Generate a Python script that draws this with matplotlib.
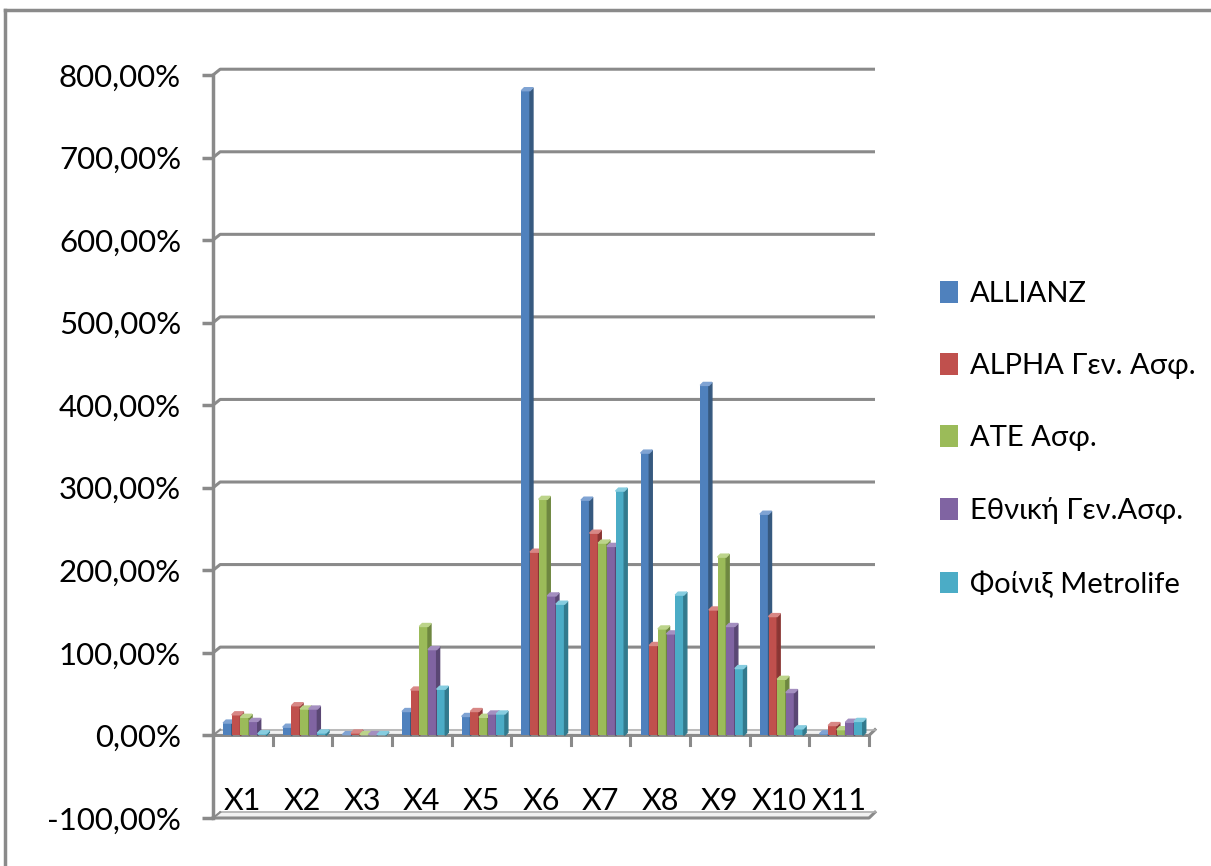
import numpy as np
import matplotlib
matplotlib.use("Agg")
import matplotlib.pyplot as plt
from matplotlib.lines import Line2D
from matplotlib.patches import Patch

plt.rcParams['font.family'] = ['Lato', 'DejaVu Sans']

categories = ["X1", "X2", "X3", "X4", "X5", "X6", "X7", "X8", "X9", "X10", "X11"]
series = ["ALLIANZ", "ALPHA Γεν. Ασφ.", "ATE Ασφ.", "Εθνική Γεν.Ασφ.", "Φοίνιξ Metrolife"]

allianz = [15, 10, 1, 29, 23, 781, 285, 342, 424, 268, 2]
alpha = [25, 36, 3, 55, 29, 222, 245, 109, 152, 144, 12]
ate = [22, 32, 1, 132, 22, 286, 233, 129, 216, 68, 7]
ethniki = [17, 32, 1, 104, 26, 169, 229, 123, 132, 52, 16]
phoenix = [2, 3, 1, 56, 26, 159, 296, 170, 81, 8, 17]

yticks = list(range(-100, 801, 100))

colors = ["#4F81BD", "#C0504D", "#9BBB59", "#8064A2", "#4BACC6"]
dark = ["#36597f", "#8a3533", "#6e8740", "#5a4774", "#327a8d"]
light = ["#7fa3d3", "#d88785", "#bcd48a", "#a48fc0", "#86cde0"]
grid_c = "#8a8a8a"

fig = plt.figure(figsize=(12.11, 8.66), dpi=100)
ax = fig.add_axes([213 / 1211, 48 / 866, 662 / 1211, 743 / 866])
ax.set_xlim(0, 11.1)
ax.set_ylim(-100, 800)
for s in ax.spines.values():
    s.set_visible(False)

n = len(categories)
dx, dy = 0.12, 7.0      # back wall offset
bw = 0.145              # bar width
sx, sy = 0.05, 3.6      # bar depth

# back wall gridlines with the little slant to the front axis
for v in yticks:
    if v in (0, -100):
        continue
    ax.plot([0, dx, 11.1], [v, v + dy, v + dy], color=grid_c, lw=2.2,
            solid_capstyle='butt', clip_on=False, zorder=1)

# floor at zero and at the bottom
for v in (0, -100):
    ax.fill([0, 11, 11.1, dx], [v, v, v + dy, v + dy], color="#f2f2f2", zorder=1)
    ax.plot([0, 11, 11.1], [v, v, v + dy], color=grid_c, lw=2.2, clip_on=False, zorder=2)
    ax.plot([dx, 11.1], [v + dy, v + dy], color="#b0b0b0", lw=1.2, clip_on=False, zorder=2)
    ax.plot([0, dx], [v, v + dy], color=grid_c, lw=1.5, clip_on=False, zorder=2)

# category ticks on the floor edge
for k in range(1, n + 1):
    ax.plot([k, k], [0, -12], color=grid_c, lw=2.2, clip_on=False, zorder=2)

# value axis
ax.plot([0, 0], [-100, 800], color=grid_c, lw=2.5, clip_on=False, zorder=2)
ax.set_yticks(yticks)
ax.set_yticklabels([f"{v},00%" for v in yticks], fontsize=22.5)
ax.tick_params(axis='y', length=8, width=2.5, color=grid_c, pad=15)
ax.set_xticks([])

# bars with a simple depth effect
data = [allianz, alpha, ate, ethniki, phoenix]
x = np.arange(n)
for i, vals in enumerate(data):
    xl = x + 0.17 + i * bw
    ax.bar(xl, vals, width=bw, align='edge', color=colors[i], zorder=3)
    for xi, v in zip(xl, vals):
        ax.fill([xi + bw, xi + bw + sx, xi + bw + sx, xi + bw],
                [0, sy, v + sy, v], color=dark[i], zorder=3)
        ax.fill([xi, xi + bw, xi + bw + sx, xi + sx],
                [v, v, v + sy, v + sy], color=light[i], zorder=3)

for k, c in enumerate(categories):
    ax.text(k + 0.5, -79, c, ha='center', va='center', fontsize=22)

handles = [Patch(facecolor=c) for c in colors]
fig.legend(handles, series, loc='upper left', bbox_to_anchor=(940 / 1211, 1 - 281 / 866),
           frameon=False, fontsize=21, handlelength=0.62, handleheight=0.75,
           handletextpad=0.4, labelspacing=1.58, borderpad=0, borderaxespad=0)

# chart area border
fig.add_artist(Line2D([5 / 1211, 5 / 1211], [0, 1 - 10 / 866], color=grid_c, lw=2.5))
fig.add_artist(Line2D([5 / 1211, 1], [1 - 10 / 866, 1 - 10 / 866], color=grid_c, lw=2.5))

fig.savefig("out.png", dpi=100)
